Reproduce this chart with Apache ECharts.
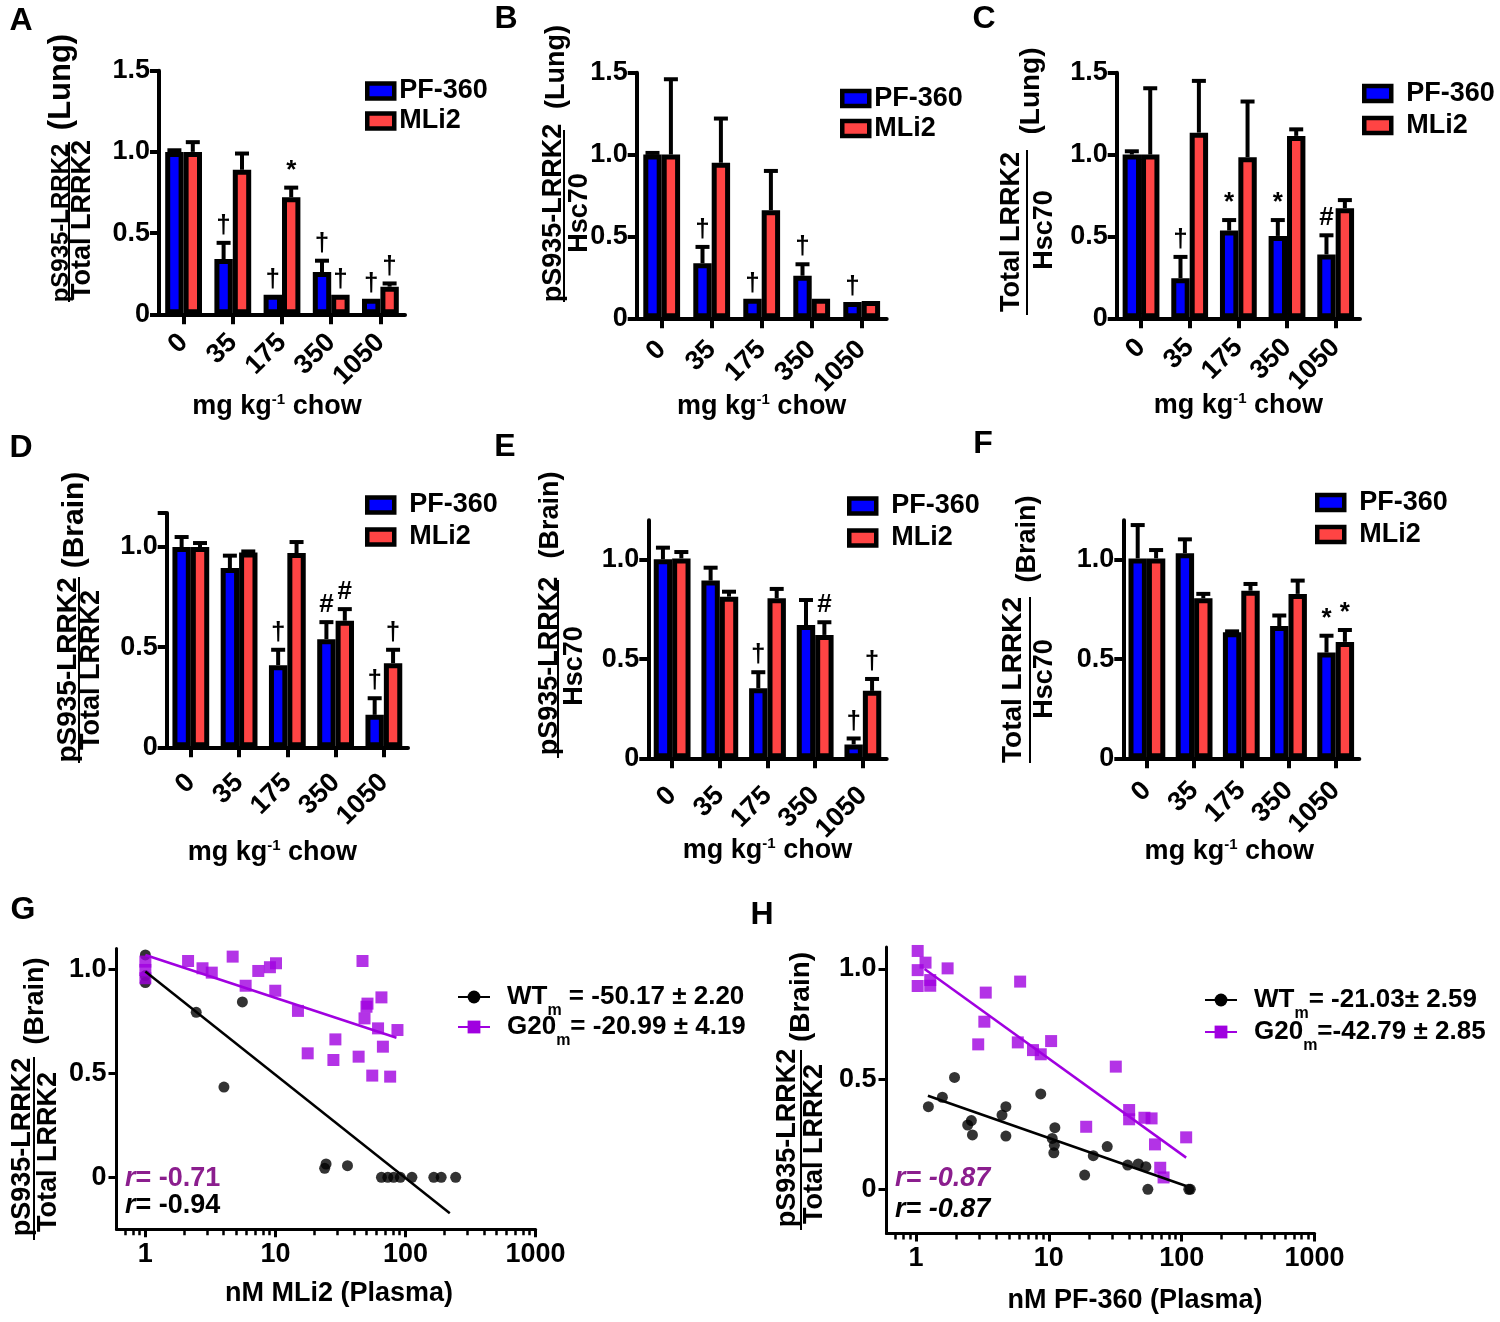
<!DOCTYPE html>
<html><head><meta charset="utf-8">
<script src="https://cdn.jsdelivr.net/npm/echarts@6/dist/echarts.min.js"></script>
<style>html,body{margin:0;padding:0;background:#fff}#c{width:1500px;height:1322px}</style>
</head><body><div id="c"></div>
<script>
// ---------------- DATA ----------------
const categories = ['0', '35', '175', '350', '1050'];
const yTicks15 = [0, 0.5, 1, 1.5];
const yTicks10 = [0, 0.5, 1];
const logMajorTicks = [1, 10, 100, 1000];
const logMinorTicks = [0.7, 0.8, 0.9, 2, 3, 4, 5, 6, 7, 8, 9, 20, 30, 40, 50, 60, 70, 80, 90, 200, 300, 400, 500, 600, 700, 800, 900];

// A: pS935-LRRK2 / Total LRRK2 (Lung)
const A_pf = [1.00, 0.34, 0.12, 0.26, 0.095];
const A_pfErr = [0.01, 0.10, 0.00, 0.07, 0.00];
const A_mli = [1.00, 0.89, 0.72, 0.12, 0.17];
const A_mliErr = [0.06, 0.10, 0.06, 0.00, 0.02];
const A_pfSig = ['', '†', '†', '†', '†'];
const A_mliSig = ['', '', '*', '†', '†'];
// B: pS935-LRRK2 / Hsc70 (Lung)
const B_pf = [1.00, 0.336, 0.12, 0.26, 0.10];
const B_pfErr = [0.01, 0.10, 0.00, 0.07, 0.00];
const B_mli = [1.00, 0.95, 0.66, 0.12, 0.105];
const B_mliErr = [0.46, 0.27, 0.24, 0.00, 0.00];
const B_pfSig = ['', '†', '†', '†', '†'];
const B_mliSig = ['', '', '', '', ''];
// C: Total LRRK2 / Hsc70 (Lung)
const C_pf = [1.00, 0.245, 0.536, 0.503, 0.39];
const C_pfErr = [0.02, 0.13, 0.064, 0.097, 0.117];
const C_mli = [1.00, 1.134, 0.984, 1.114, 0.672];
const C_mliErr = [0.405, 0.316, 0.34, 0.04, 0.05];
const C_pfSig = ['', '†', '*', '*', '#'];
const C_mliSig = ['', '', '', '', ''];
// D: pS935-LRRK2 / Total LRRK2 (Brain)
const D_pf = [1.00, 0.895, 0.41, 0.54, 0.162];
const D_pfErr = [0.05, 0.062, 0.077, 0.085, 0.083];
const D_mli = [1.00, 0.973, 0.97, 0.632, 0.42];
const D_mliErr = [0.02, 0.005, 0.055, 0.058, 0.067];
const D_pfSig = ['', '', '†', '#', '†'];
const D_mliSig = ['', '', '', '#', '†'];
// E: pS935-LRRK2 / Hsc70 (Brain)
const E_pf = [1.003, 0.896, 0.353, 0.672, 0.07];
const E_pfErr = [0.059, 0.065, 0.081, 0.126, 0.03];
const E_mli = [1.008, 0.815, 0.807, 0.622, 0.34];
const E_mliErr = [0.032, 0.025, 0.047, 0.064, 0.06];
const E_pfSig = ['', '', '†', '', '†'];
const E_mliSig = ['', '', '', '#', '†'];
// F: Total LRRK2 / Hsc70 (Brain)
const F_pf = [1.008, 1.034, 0.635, 0.667, 0.533];
const F_pfErr = [0.168, 0.07, 0.005, 0.053, 0.085];
const F_mli = [1.008, 0.807, 0.845, 0.829, 0.587];
const F_mliErr = [0.042, 0.022, 0.034, 0.067, 0.06];
const F_pfSig = ['', '', '', '', '*'];
const F_mliSig = ['', '', '', '', '*'];

// G: brain pS935/total vs plasma MLi2 (nM)
const G_wt = [[1,1.069],[1,0.97],[1,0.936],[2.46,0.793],[5.57,0.843],[4.02,0.434],[23.9,0.043],[24.5,0.064],[35.8,0.056],[65.3,0],[73.1,0],[81.1,0],[91.2,0],[112,0],[165,0],[188,0],[243,0]];
const G_g20 = [[1,1.037],[1,0.997],[1,0.957],[2.13,1.04],[2.75,1.005],[3.24,0.984],[4.69,1.061],[5.9,0.921],[7.38,0.992],[9.07,1.01],[10.1,1.029],[9.97,0.897],[14.9,0.80],[17.7,0.596],[27.9,0.564],[28.9,0.663],[43.6,0.58],[46.7,1.04],[48.4,0.764],[50.1,0.82],[51,0.835],[55.5,0.489],[61.5,0.716],[65.3,0.865],[67,0.628],[76.2,0.484],[86.7,0.708]];
const G_wtFit = [[1,0.989],[219,-0.173]];
const G_g20Fit = [[1,1.069],[85.2,0.671]];
// H: brain pS935/total vs plasma PF-360 (nM)
const H_wt = [[1.24,0.375],[1.58,0.418],[1.95,0.508],[2.45,0.292],[2.61,0.312],[2.66,0.247],[4.44,0.337],[4.75,0.375],[4.75,0.242],[8.69,0.433],[10.6,0.231],[11.1,0.28],[11.0,0.20],[10.9,0.166],[18.6,0.065],[21.6,0.153],[27.5,0.194],[39.2,0.11],[47.1,0.115],[53.7,0.103],[55.6,0],[113,0],[116,0]];
const H_g20 = [[1.03,1.082],[1.03,0.995],[1.03,0.923],[1.18,1.029],[1.28,0.95],[1.28,0.924],[1.73,1.003],[2.94,0.658],[3.27,0.761],[3.35,0.893],[5.84,0.667],[6.08,0.943],[7.6,0.632],[8.69,0.613],[10.4,0.673],[19.1,0.284],[31.9,0.557],[40.2,0.36],[40.2,0.318],[52.4,0.325],[59.3,0.322],[62.9,0.204],[68.9,0.098],[73,0.054],[108,0.236]];
const H_wtFit = [[1.23,0.425],[108,0.015]];
const H_g20Fit = [[1.16,1.0],[108,0.144]];

const legendTexts = {
  WT_G: '{n|WT}{s|m}{n| = -50.17 ± 2.20}',
  G20_G: '{n|G20}{s|m}{n|= -20.99 ± 4.19}',
  WT_H: '{n|WT}{s|m}{n|= -21.03± 2.59}',
  G20_H: '{n|G20}{s|m}{n|=-42.79 ± 2.85}'
};

// ---------------- STYLE / LAYOUT ----------------
const FONT = '"Liberation Sans", Arial, Helvetica, sans-serif';
const BLUE = '#0000FF', RED = '#FF4444', PURPLE = '#A000E0', PURPLE_TXT = '#8B1E8E';
const BAR_W = 18.4, BAR_B = 5;

const barPanels = [
  {pf:A_pf, pfErr:A_pfErr, mli:A_mli, mliErr:A_mliErr, pfSig:A_pfSig, mliSig:A_mliSig,
   grid:{left:159, top:70.7, width:246, height:243.6}, max:1.5, yLab:yTicks15, yTick:yTicks15,
   catMargin:24, nameGap:78, namePad:[0,10,0,0], leg:{left:365, cy:91, pitch:30, pad:0}},
  {pf:B_pf, pfErr:B_pfErr, mli:B_mli, mliErr:B_mliErr, pfSig:B_pfSig, mliSig:B_mliSig,
   grid:{left:636.7, top:72.7, width:250, height:245.6}, max:1.5, yLab:yTicks15, yTick:yTicks15,
   catMargin:27, nameGap:74, namePad:[0,0,0,0], leg:{left:840, cy:98.5, pitch:30, pad:0}},
  {pf:C_pf, pfErr:C_pfErr, mli:C_mli, mliErr:C_mliErr, pfSig:C_pfSig, mliSig:C_mliSig,
   grid:{left:1116.7, top:72.7, width:243.3, height:245.6}, max:1.5, yLab:yTicks15, yTick:yTicks15,
   catMargin:25, nameGap:73, namePad:[0,0,0,0], leg:{left:1362, cy:93.5, pitch:32, pad:10}},
  {pf:D_pf, pfErr:D_pfErr, mli:D_mli, mliErr:D_mliErr, pfSig:D_pfSig, mliSig:D_mliSig,
   grid:{left:166.7, top:513, width:241.3, height:234.3}, max:1.17, yLab:yTicks10, yTick:[0,0.5,1,1.17],
   catMargin:31, nameGap:91, namePad:[0,30,0,0], leg:{left:365, cy:505, pitch:32, pad:10}},
  {pf:E_pf, pfErr:E_pfErr, mli:E_mli, mliErr:E_mliErr, pfSig:E_pfSig, mliSig:E_mliSig,
   grid:{left:648.3, top:520.3, width:238.4, height:238}, max:1.2, yLab:yTicks10, yTick:yTicks10,
   catMargin:33, nameGap:78, namePad:[0,0,0,0], leg:{left:847, cy:506, pitch:32, pad:10}},
  {pf:F_pf, pfErr:F_pfErr, mli:F_mli, mliErr:F_mliErr, pfSig:F_pfSig, mliSig:F_mliSig,
   grid:{left:1123.3, top:520.3, width:236, height:238}, max:1.2, yLab:yTicks10, yTick:yTicks10,
   catMargin:28, nameGap:79, namePad:[0,24,0,0], leg:{left:1315, cy:502.5, pitch:32, pad:10}}
];

const scatterPanels = [
  {wt:G_wt, g20:G_g20, wtFit:G_wtFit, g20Fit:G_g20Fit, names:['WT_G','G20_G'],
   grid:{left:116.5, top:948.5, width:419.1, height:280.8}, ymin:-0.25, ymax:1.1,
   xName:'nM MLi2 (Plasma)', nameGap:50, namePad:[0,0,0,26],
   leg:{left:457, top:984, gap:-5}},
  {wt:H_wt, g20:H_g20, wtFit:H_wtFit, g20Fit:H_g20Fit, names:['WT_H','G20_H'],
   grid:{left:886.5, top:947, width:428.1, height:286.4}, ymin:-0.2, ymax:1.1,
   xName:'nM PF-360 (Plasma)', nameGap:53, namePad:[0,0,0,69],
   leg:{left:1204, top:987, gap:-3}}
];

const fmtY = v => (Math.abs(v) < 1e-9 ? '0' : v.toFixed(1));
const axisLineStyle = w => ({color:'#000', width:w});
const lblStyle = (size) => ({color:'#000', fontSize:size, fontWeight:'bold', fontFamily:FONT});

const grids = [], xAxes = [], yAxes = [], series = [], legends = [];

function errRenderer(sign, sigArr) {
  return function (params, api) {
    const idx = api.value(0), mean = api.value(1), err = api.value(2);
    const p = api.coord([idx, mean]);
    const t = api.coord([idx, mean + err]);
    const cx = p[0] + sign * BAR_W / 2;
    const children = [];
    let topY = p[1];
    if (err > 0.004) {
      children.push({type:'line', shape:{x1:cx, y1:p[1], x2:cx, y2:t[1]}, style:{stroke:'#000', lineWidth:4}});
      children.push({type:'line', shape:{x1:cx-7, y1:t[1], x2:cx+7, y2:t[1]}, style:{stroke:'#000', lineWidth:4}});
      topY = t[1] - 2;
    }
    const sig = sigArr[params.dataIndex];
    if (sig) {
      children.push({type:'text', x:cx, y:topY - 2,
        style:{text:sig, fill:'#000', font:'bold 26px ' + FONT, align:'center', verticalAlign:'bottom',
               textAlign:'center', textVerticalAlign:'bottom'}});
    }
    return {type:'group', children};
  };
}

barPanels.forEach((P, i) => {
  grids.push(Object.assign({containLabel:false, outerBoundsMode:'none', show:false}, P.grid));
  xAxes.push({
    gridIndex:i, type:'category', data:categories,
    axisLine:{show:true, lineStyle:axisLineStyle(4)},
    axisTick:{show:true, alignWithLabel:true, length:10, lineStyle:axisLineStyle(4)},
    axisLabel:Object.assign({rotate:45, margin:P.catMargin, interval:0}, lblStyle(27)),
    splitLine:{show:false},
    name:'{a|mg kg}{s|-1}{a| chow}', nameLocation:'middle', nameGap:P.nameGap, nameMoveOverlap:false,
    nameTextStyle:{padding:P.namePad, rich:{
      a:{fontSize:27, fontWeight:'bold', fontFamily:FONT, color:'#000', lineHeight:28},
      s:{fontSize:15, fontWeight:'bold', fontFamily:FONT, color:'#000', lineHeight:14, verticalAlign:'top'}}}
  });
  yAxes.push({
    gridIndex:i, type:'value', min:0, max:P.max, interval:0.5,
    axisLine:{show:true, lineStyle:axisLineStyle(4)},
    axisTick:{show:true, length:9, customValues:P.yTick, lineStyle:axisLineStyle(4)},
    axisLabel:Object.assign({margin:9, customValues:P.yLab, formatter:fmtY}, lblStyle(27)),
    splitLine:{show:false}
  });
  const common = {type:'bar', xAxisIndex:i, yAxisIndex:i, barWidth:BAR_W, barGap:'0%', z:2, animation:false};
  series.push(Object.assign({name:'PF-360', data:P.pf, itemStyle:{color:BLUE, borderColor:'#000', borderWidth:BAR_B}}, common));
  series.push(Object.assign({name:'MLi2', data:P.mli, itemStyle:{color:RED, borderColor:'#000', borderWidth:BAR_B}}, common));
  series.push({type:'custom', name:'pfErr' + i, xAxisIndex:i, yAxisIndex:i, z:4, animation:false, silent:true,
    encode:{x:0, y:1}, data:P.pf.map((v, k) => [k, v, P.pfErr[k]]), renderItem:errRenderer(-1, P.pfSig)});
  series.push({type:'custom', name:'mliErr' + i, xAxisIndex:i, yAxisIndex:i, z:4, animation:false, silent:true,
    encode:{x:0, y:1}, data:P.mli.map((v, k) => [k, v, P.mliErr[k]]), renderItem:errRenderer(1, P.mliSig)});
  legends.push({
    data:['PF-360', 'MLi2'], orient:'vertical', left:P.leg.left, top:P.leg.cy - P.leg.pitch / 2,
    itemGap:0, itemWidth:27, itemHeight:15, icon:'rect', padding:0, selectedMode:false,
    itemStyle:{borderColor:'#000', borderWidth:4.5},
    textStyle:{fontSize:27, fontWeight:'bold', fontFamily:FONT, color:'#000', lineHeight:P.leg.pitch, padding:[0,0,0,P.leg.pad]}
  });
});

scatterPanels.forEach((P, j) => {
  const gi = 6 + j;
  const xi = 6 + 2 * j;
  grids.push(Object.assign({containLabel:false, outerBoundsMode:'none', show:false}, P.grid));
  xAxes.push({
    gridIndex:gi, type:'log', logBase:10, min:0.6, max:1000,
    axisLine:{show:true, onZero:false, lineStyle:axisLineStyle(3)},
    axisTick:{show:true, customValues:logMajorTicks, length:8, lineStyle:axisLineStyle(3)},
    axisLabel:Object.assign({customValues:logMajorTicks, margin:12, formatter:v => String(Math.round(v))}, lblStyle(27)),
    splitLine:{show:false}, minorTick:{show:false},
    name:P.xName, nameLocation:'middle', nameGap:P.nameGap, nameMoveOverlap:false,
    nameTextStyle:Object.assign({padding:P.namePad, lineHeight:28}, lblStyle(27))
  });
  xAxes.push({
    gridIndex:gi, type:'log', logBase:10, min:0.6, max:1000, position:'bottom',
    axisLine:{show:false, onZero:false},
    axisTick:{show:true, customValues:logMinorTicks, length:6, lineStyle:axisLineStyle(2.5)},
    axisLabel:{show:false}, splitLine:{show:false}
  });
  yAxes.push({
    gridIndex:gi, type:'value', min:P.ymin, max:P.ymax,
    axisLine:{show:true, onZero:false, lineStyle:axisLineStyle(3)},
    axisTick:{show:true, customValues:yTicks10, length:8, lineStyle:axisLineStyle(3)},
    axisLabel:Object.assign({customValues:yTicks10, margin:10, formatter:fmtY}, lblStyle(27)),
    splitLine:{show:false}
  });
  series.push({type:'scatter', name:'WT points ' + j, xAxisIndex:xi, yAxisIndex:gi, data:P.wt,
    symbol:'circle', symbolSize:11, itemStyle:{color:'#000'}, z:3, animation:false});
  series.push({type:'scatter', name:'G20 points ' + j, xAxisIndex:xi, yAxisIndex:gi, data:P.g20,
    symbol:'rect', symbolSize:12, itemStyle:{color:PURPLE}, z:3, animation:false});
  series.push({type:'line', name:P.names[0], xAxisIndex:xi, yAxisIndex:gi, data:P.wtFit,
    symbol:'circle', symbolSize:12, showSymbol:false, lineStyle:{color:'#000', width:2.5},
    itemStyle:{color:'#000'}, z:4, animation:false});
  series.push({type:'line', name:P.names[1], xAxisIndex:xi, yAxisIndex:gi, data:P.g20Fit,
    symbol:'rect', symbolSize:12, showSymbol:false, lineStyle:{color:PURPLE, width:2.5},
    itemStyle:{color:PURPLE}, z:4, animation:false});
  legends.push({
    data:P.names, orient:'vertical', left:P.leg.left, top:P.leg.top,
    itemGap:P.leg.gap, itemWidth:32, itemHeight:16, padding:0, selectedMode:false,
    formatter:n => legendTexts[n],
    textStyle:{padding:[0,0,0,12], rich:{
      n:{fontSize:26, fontWeight:'bold', fontFamily:FONT, color:'#000', lineHeight:44},
      s:{fontSize:16, fontWeight:'bold', fontFamily:FONT, color:'#000', lineHeight:14, verticalAlign:'bottom'}}}
  });
});

// ---------------- TEXT DECORATIONS (titles, letters) ----------------
const titleSpecs = [
  ['(Lung)', 61, 82, 31], ['pS935-LRRK2', 61, 223, 24], ['Total LRRK2', 83, 220, 27],
  ['(Lung)', 557, 67, 27], ['pS935-LRRK2', 554, 213, 27], ['Hsc70', 580, 213, 27],
  ['(Lung)', 1031, 91, 28], ['Total LRRK2', 1012, 232, 27], ['Hsc70', 1045, 230, 27],
  ['(Brain)', 75, 520, 30], ['pS935-LRRK2', 68, 670, 28], ['Total LRRK2', 92, 670, 27],
  ['(Brain)', 551, 515, 27], ['pS935-LRRK2', 550, 666, 27], ['Hsc70', 575, 666, 27],
  ['(Brain)', 1028, 539, 27], ['Total LRRK2', 1013, 680, 28], ['Hsc70', 1045, 679, 27],
  ['(Brain)', 36, 1001, 27], ['pS935-LRRK2', 23, 1147, 27], ['Total LRRK2', 48.5, 1152, 27],
  ['(Brain)', 801, 997, 28], ['pS935-LRRK2', 788, 1138, 27], ['Total LRRK2', 815, 1144, 27]
];
const fracLines = [[69,142,302],[564,130,302],[1027,150,315],[79,577,763],[558,580,758],[1030,597,763],[34,1057,1240],[801,1050,1230]];
const letters = [['A',21,21],['B',506,19],['C',984,19],['D',21,448],['E',505,447],['F',983,444],['G',23,910],['H',762,915]];

const graphics = [];
titleSpecs.forEach(([t, x, y, s]) => graphics.push({type:'text', x, y, rotation:Math.PI / 2,
  style:{text:t, font:'bold ' + s + 'px ' + FONT, fill:'#000', align:'center', verticalAlign:'middle', textAlign:'center', textVerticalAlign:'middle'}}));
fracLines.forEach(([x, y1, y2]) => graphics.push({type:'line', shape:{x1:x, y1, x2:x, y2}, style:{stroke:'#000', lineWidth:2}}));
letters.forEach(([t, x, y]) => graphics.push({type:'text', x, y,
  style:{text:t, font:'bold 32px ' + FONT, fill:'#000', align:'center', verticalAlign:'middle', textAlign:'center', textVerticalAlign:'middle'}}));
const rRich = c => ({i:{fontStyle:'italic', fontWeight:'bold', fontSize:27, fontFamily:FONT, fill:c, color:c},
                     n:{fontWeight:'bold', fontSize:27, fontFamily:FONT, fill:c, color:c}});
graphics.push({type:'text', x:125, y:1179, style:{text:'{i|r}{n|= -0.71}', rich:rRich(PURPLE_TXT), fill:PURPLE_TXT, align:'left', verticalAlign:'middle', textVerticalAlign:'middle'}});
graphics.push({type:'text', x:125, y:1206, style:{text:'{i|r}{n|= -0.94}', rich:rRich('#000'), fill:'#000', align:'left', verticalAlign:'middle', textVerticalAlign:'middle'}});
graphics.push({type:'text', x:895, y:1179, style:{text:'r= -0.87', font:'italic bold 27px ' + FONT, fill:PURPLE_TXT, align:'left', verticalAlign:'middle', textVerticalAlign:'middle'}});
graphics.push({type:'text', x:895, y:1210, style:{text:'r= -0.87', font:'italic bold 27px ' + FONT, fill:'#000', align:'left', verticalAlign:'middle', textVerticalAlign:'middle'}});

const chart = echarts.init(document.getElementById('c'), null, {renderer:'canvas'});
chart.setOption({
  backgroundColor:'#fff',
  animation:false,
  textStyle:{fontFamily:FONT},
  grid:grids, xAxis:xAxes, yAxis:yAxes, series, legend:legends,
  graphic:{elements:graphics}
});
</script></body></html>
